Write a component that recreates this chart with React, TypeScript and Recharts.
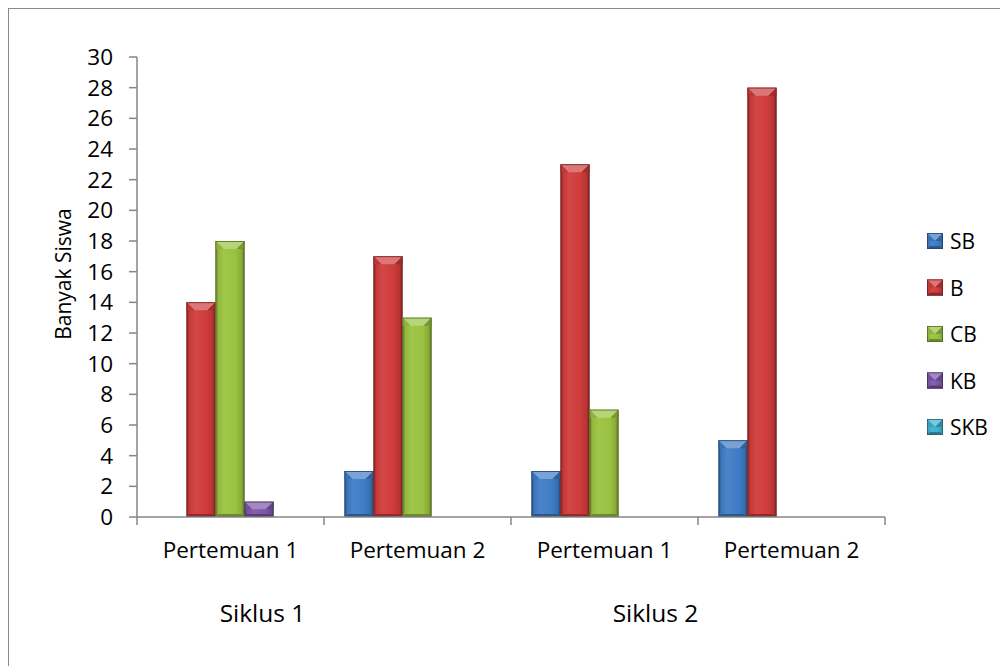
import React from 'react';
import { BarChart, Bar, XAxis, YAxis } from 'recharts';

const categories = ['Pertemuan 1', 'Pertemuan 2', 'Pertemuan 1', 'Pertemuan 2'];
const cycleLabels = ['Siklus 1', '', 'Siklus 2', ''];
const sbValues = [0, 3, 3, 5];
const bValues = [14, 17, 23, 28];
const cbValues = [18, 13, 7, 0];
const kbValues = [1, 0, 0, 0];
const skbValues = [0, 0, 0, 0];
const yTicks = [0, 2, 4, 6, 8, 10, 12, 14, 16, 18, 20, 22, 24, 26, 28, 30];
const seriesKeys = ['SB', 'B', 'CB', 'KB', 'SKB'];
const seriesColors = ['#3F7CC6', '#CF3B3B', '#9AC240', '#7C57A8', '#3DB0CC'];
const seriesValues = [sbValues, bValues, cbValues, kbValues, skbValues];

const data = categories.map((c, i) => {
  const row: any = { name: c, cycle: cycleLabels[i] };
  seriesKeys.forEach((k, s) => (row[k] = seriesValues[s][i]));
  return row;
});

const W = 1008;
const H = 666;
const M = { top: 57, right: 123, left: 0, bottom: 0 };
const Y_W = 137;
const X_H = 149;
const PLOT_W = W - M.right - Y_W;
const FONT = '"Open Sans", Lato, sans-serif';
const AXIS = '#868686';

function shade(hex: string, f: number) {
  const n = parseInt(hex.slice(1), 16);
  const r = (n >> 16) & 255, g = (n >> 8) & 255, b = n & 255;
  const m = (c: number) => (f >= 0 ? Math.round(c + (255 - c) * f) : Math.round(c * (1 + f)));
  return `rgb(${m(r)},${m(g)},${m(b)})`;
}

let gid = 0;
function Bevel({ x, y, width, height, color }: any) {
  if (!height || height <= 0 || !width) return null;
  const id = `bv${gid++}`;
  const d = Math.min(8, height / 2, width / 2);
  const s = Math.min(3, width / 4);
  const b = Math.min(3, height / 4);
  return (
    <g>
      <defs>
        <linearGradient id={id} x1="0" y1="0" x2="1" y2="0">
          <stop offset="0" stopColor={shade(color, -0.35)} />
          <stop offset="0.1" stopColor={shade(color, -0.05)} />
          <stop offset="0.3" stopColor={shade(color, 0.06)} />
          <stop offset="0.7" stopColor={color} />
          <stop offset="0.9" stopColor={shade(color, -0.12)} />
          <stop offset="1" stopColor={shade(color, -0.4)} />
        </linearGradient>
      </defs>
      <rect x={x} y={y} width={width} height={height} fill={`url(#${id})`} />
      <polygon
        points={`${x},${y + height} ${x + width},${y + height} ${x + width - s},${y + height - b} ${x + s},${y + height - b}`}
        fill={shade(color, -0.3)}
      />
      <polygon
        points={`${x},${y} ${x + width},${y} ${x + width - d},${y + d} ${x + d},${y + d}`}
        fill={shade(color, 0.3)}
      />
      <polygon points={`${x},${y} ${x + d},${y + d} ${x},${y + d}`} fill={shade(color, -0.08)} />
      <polygon points={`${x + width},${y} ${x + width - d},${y + d} ${x + width},${y + d}`} fill={shade(color, -0.22)} />
      <rect x={x + 0.4} y={y + 0.4} width={width - 0.8} height={height - 0.8} fill="none" stroke={shade(color, -0.45)} strokeWidth={0.8} />
    </g>
  );
}

function XTick(props: any) {
  const { x, y, payload, index } = props;
  const half = PLOT_W / categories.length / 2;
  const cyc = cycleLabels[index];
  const cycOffset = index === 0 ? 32 : 51;
  return (
    <g>
      <line x1={x - half} x2={x - half} y1={y} y2={y + 8} stroke={AXIS} strokeWidth={1.5} />
      {index === categories.length - 1 && (
        <line x1={x + half} x2={x + half} y1={y} y2={y + 8} stroke={AXIS} strokeWidth={1.5} />
      )}
      <text x={x} y={y + 41} textAnchor="middle" fontSize={22.5} fontFamily={FONT} fill="#000">
        {payload.value}
      </text>
      {cyc && (
        <text x={x + cycOffset} y={y + 105} textAnchor="middle" fontSize={24.5} fontFamily={FONT} fill="#000">
          {cyc}
        </text>
      )}
    </g>
  );
}

function YLabel(props: any) {
  const vb = props.viewBox || {};
  const cy = vb.y + vb.height / 2 - 13;
  return (
    <text x={63} y={cy} transform={`rotate(-90, 63, ${cy})`} textAnchor="middle" dominantBaseline="central" fontSize={21} fontFamily={FONT} fill="#000">
      Banyak Siswa
    </text>
  );
}

function OverlayLayer() {
  return (
    <svg width={W} height={H} style={{ position: 'absolute', left: 0, top: 0, pointerEvents: 'none', zIndex: 5 }}>
      <rect x={8} y={8} width={W + 20} height={H + 20} fill="none" stroke="#8a8a8a" strokeWidth={2} />
      {seriesKeys.map((k, i) => {
        const base = 249 + i * 46.5;
        return (
          <g key={k}>
            <Bevel x={927} y={base - 16} width={16} height={16} color={seriesColors[i]} />
            <text x={950} y={base} fontSize={21} fontFamily={FONT} fill="#000">
              {k}
            </text>
          </g>
        );
      })}
    </svg>
  );
}

export default function App() {
  return (
    <div style={{ position: 'relative', width: W, height: H, margin: '-8px 0 0 -8px', overflow: 'hidden', background: '#fff' }}>
      <BarChart width={W} height={H} data={data} margin={M} barCategoryGap={20.5} barGap={0}>
        <XAxis
          dataKey="name"
          height={X_H}
          axisLine={{ stroke: AXIS, strokeWidth: 1.5 }}
          tickLine={false}
          tickSize={0}
          tickMargin={0}
          interval={0}
          tick={<XTick />}
        />
        <YAxis
          width={Y_W}
          domain={[0, 30]}
          ticks={yTicks}
          interval={0}
          axisLine={{ stroke: AXIS, strokeWidth: 1.5 }}
          tickLine={{ stroke: AXIS, strokeWidth: 1.5 }}
          tickSize={8}
          tickMargin={16}
          tick={{ fontSize: 22.5, fontFamily: FONT, fill: '#000' }}
          label={<YLabel />}
        />
        {seriesKeys.map((k, i) => (
          <Bar
            key={k}
            dataKey={k}
            isAnimationActive={false}
            fill={seriesColors[i]}
            shape={(p: any) => <Bevel {...p} color={seriesColors[i]} />}
          />
        ))}
      </BarChart>
      <OverlayLayer />
    </div>
  );
}
